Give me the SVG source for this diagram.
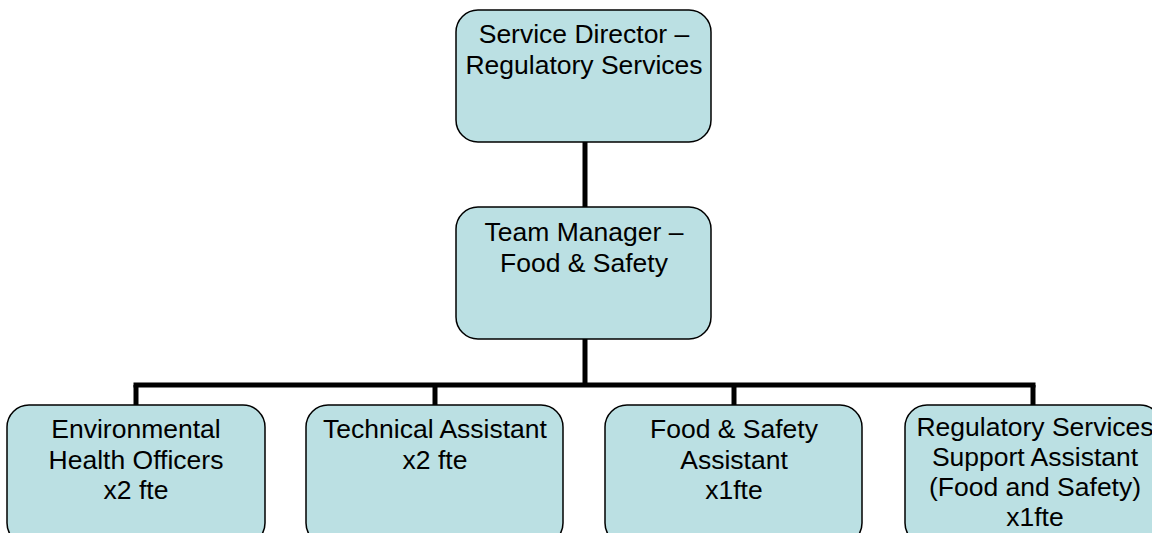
<svg xmlns="http://www.w3.org/2000/svg" width="1152" height="533" viewBox="0 0 1152 533">
<style>
.box{fill:#BBE0E3;stroke:#000;stroke-width:1.5}
.t{font-family:"Liberation Sans",Arial,sans-serif;font-size:26.5px;fill:#000;text-anchor:middle}
.c{stroke:#000;stroke-width:5;fill:none}
</style>
<rect width="1152" height="533" fill="#fff"/>
<g id="connectors">
<line class="c" x1="585" y1="142" x2="585" y2="207"/>
<line class="c" x1="585" y1="339" x2="585" y2="385"/>
<line class="c" x1="133.5" y1="385" x2="1035.5" y2="385"/>
<line class="c" x1="136" y1="385" x2="136" y2="405"/>
<line class="c" x1="435" y1="385" x2="435" y2="405"/>
<line class="c" x1="734" y1="385" x2="734" y2="405"/>
<line class="c" x1="1033" y1="385" x2="1033" y2="405"/>
</g>
<g id="n1"><rect class="box" x="456" y="10" width="255" height="132" rx="22"/>
<text class="t" x="584" y="43">Service Director –</text><text class="t" x="584" y="74">Regulatory Services</text></g>
<g id="n2"><rect class="box" x="456" y="207" width="255" height="132" rx="22"/>
<text class="t" x="584" y="241">Team Manager –</text><text class="t" x="584" y="272">Food &amp; Safety</text></g>
<g id="n3"><rect class="box" x="7" y="405" width="258" height="140" rx="22"/>
<text class="t" x="136" y="438">Environmental</text><text class="t" x="136" y="469">Health Officers</text><text class="t" x="136" y="499">x2 fte</text></g>
<g id="n4"><rect class="box" x="306" y="405" width="257" height="140" rx="22"/>
<text class="t" x="435" y="438">Technical Assistant</text><text class="t" x="435" y="469">x2 fte</text></g>
<g id="n5"><rect class="box" x="605" y="405" width="257" height="140" rx="22"/>
<text class="t" x="734" y="438">Food &amp; Safety</text><text class="t" x="734" y="469">Assistant</text><text class="t" x="734" y="499">x1fte</text></g>
<g id="n6"><rect class="box" x="905" y="405" width="257" height="140" rx="22"/>
<text class="t" x="1035" y="436">Regulatory Services</text><text class="t" x="1035" y="466">Support Assistant</text><text class="t" x="1035" y="496">(Food and Safety)</text><text class="t" x="1035" y="526">x1fte</text></g>
</svg>
